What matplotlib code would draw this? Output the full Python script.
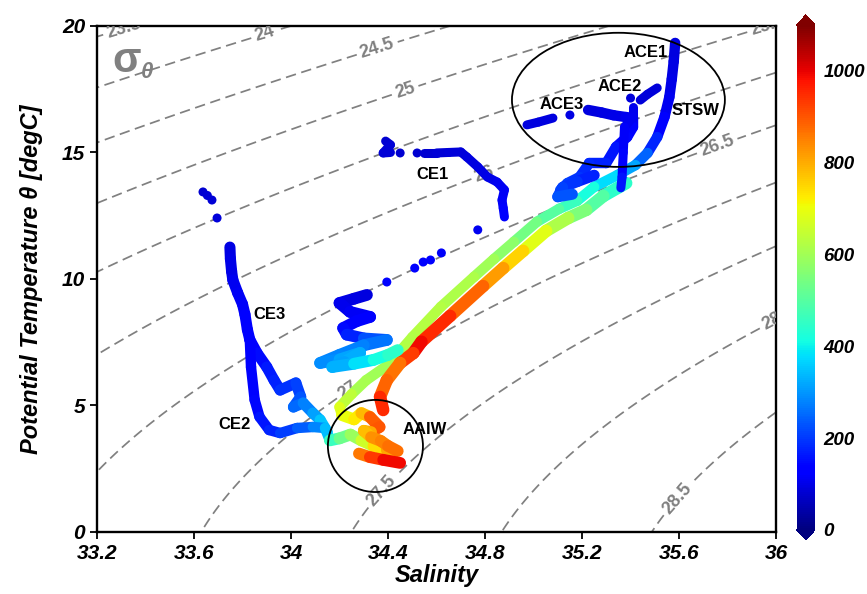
import numpy as np
import matplotlib
matplotlib.use("Agg")
import matplotlib.pyplot as plt
from matplotlib.collections import LineCollection
from matplotlib.patches import Ellipse
from matplotlib import colors, cm

plt.rcParams['font.family'] = ['Liberation Sans', 'DejaVu Sans']

# ---- profiles: salinity, potential temperature (degC), depth (m) ----
# STSW profile running into the upper (shallower) edge of the main band
stsw_s = [35.584, 35.578, 35.570, 35.560, 35.540, 35.510, 35.470, 35.420, 35.345,
          35.250, 35.180, 35.105, 35.014, 34.919, 34.837, 34.754, 34.618, 34.500,
          34.450, 34.400, 34.310, 34.250, 34.200, 34.210]
stsw_t = [19.33, 18.60, 17.90, 17.19, 16.40, 15.61, 14.98, 14.50, 14.10,
          13.64, 13.09, 12.77, 12.26, 11.47, 10.79, 10.08, 8.90, 7.70,
          7.15, 6.60, 6.00, 5.45, 4.94, 4.62]
stsw_z = [90, 95, 100, 105, 115, 150, 210, 280, 350,
          400, 440, 480, 520, 560, 590, 610, 620, 630,
          610, 600, 600, 620, 660, 700]

# deeper edge of the main band, ending in the orange strand above AAIW
band_s = [35.382, 35.288, 35.217, 35.143, 35.052, 34.957, 34.875, 34.792, 34.656,
          34.538, 34.504, 34.450, 34.395, 34.367, 34.380]
band_t = [13.79, 13.28, 12.73, 12.41, 11.90, 11.11, 10.43, 9.72, 8.54,
          7.52, 7.07, 6.68, 6.00, 5.34, 4.82]
band_z = [420, 470, 520, 580, 650, 720, 790, 850, 920,
          980, 1000, 860, 870, 900, 1000]

# CE1
ce1_s = [34.550, 34.600, 34.650, 34.700, 34.725, 34.770, 34.810, 34.850, 34.880,
         34.870, 34.875, 34.880]
ce1_t = [14.98, 14.98, 15.00, 15.02, 14.82, 14.43, 14.03, 13.83, 13.52,
         13.12, 12.80, 12.45]
ce1_z = [80, 82, 85, 88, 90, 95, 100, 105, 110, 115, 120, 125]

ce1_top_s = [34.390, 34.410, 34.380, 34.410]
ce1_top_t = [15.45, 15.30, 14.98, 15.00]
ce1_top_z = [80, 80, 85, 85]

# CE1 deeper zigzag merging into the band
ce1_low_s = [34.313, 34.260, 34.200, 34.243, 34.326, 34.270, 34.215, 34.230, 34.300,
             34.395, 34.300, 34.200, 34.120, 34.200, 34.285, 34.220, 34.170, 34.260,
             34.340, 34.400, 34.440]
ce1_low_t = [9.37, 9.22, 9.05, 8.70, 8.50, 8.33, 8.06, 7.80, 7.65,
             7.59, 7.38, 7.00, 6.68, 6.82, 7.08, 6.72, 6.52, 6.65,
             6.80, 7.00, 7.19]
ce1_low_z = [90, 95, 100, 110, 120, 130, 140, 160, 190,
             260, 270, 280, 280, 300, 330, 320, 300, 360,
             400, 430, 460]

# CE3 (upper part and zigzag branch)
ce3_s = [33.748, 33.750, 33.755, 33.760, 33.780, 33.800, 33.810, 33.820, 33.830,
         33.860, 33.900, 33.930, 33.955, 34.020, 34.040, 34.010, 34.050, 34.090,
         34.120, 34.150]
ce3_t = [11.26, 10.80, 10.30, 9.96, 9.45, 9.00, 8.60, 8.00, 7.60,
         7.07, 6.52, 6.00, 5.61, 5.89, 5.34, 4.94, 5.10, 4.70,
         4.43, 3.95]
ce3_z = [95, 100, 100, 105, 110, 115, 120, 125, 130,
         140, 160, 170, 180, 200, 220, 240, 260, 290,
         330, 370]

# CE2
ce2_s = [33.830, 33.835, 33.850, 33.870, 33.910, 33.955, 34.025, 34.090, 34.140, 34.160]
ce2_t = [7.60, 6.52, 5.22, 4.55, 4.03, 3.91, 4.11, 4.15, 4.11, 3.62]
ce2_z = [130, 135, 140, 150, 170, 190, 220, 260, 300, 380]

# AAIW core
aaiw1_s = [34.160, 34.200, 34.245, 34.290, 34.340, 34.395, 34.420]
aaiw1_t = [3.62, 3.70, 3.85, 3.62, 3.40, 3.24, 3.10]
aaiw1_z = [420, 500, 560, 620, 700, 780, 830]

aaiw2_s = [34.210, 34.260, 34.290, 34.325, 34.365, 34.330, 34.300, 34.330, 34.370, 34.400, 34.440]
aaiw2_t = [4.62, 4.45, 4.70, 4.55, 4.15, 3.95, 4.00, 3.75, 3.60, 3.40, 3.20]
aaiw2_z = [690, 710, 750, 820, 960, 840, 760, 800, 860, 840, 900]

aaiw3_s = [34.280, 34.325, 34.380, 34.450]
aaiw3_t = [3.10, 2.96, 2.85, 2.73]
aaiw3_z = [820, 900, 970, 1010]

# ACE eddies
ace3_s = [34.973, 35.020, 35.080]
ace3_t = [16.09, 16.20, 16.36]
ace3_z = [90, 92, 95]

ace3b_s = [35.225, 35.280, 35.330, 35.380, 35.410, 35.410, 35.386, 35.340, 35.300,
           35.230, 35.190, 35.140, 35.110]
ace3b_t = [16.68, 16.58, 16.47, 16.40, 16.36, 16.00, 15.61, 15.22, 14.58,
           14.58, 14.03, 13.79, 13.52]
ace3b_z = [90, 95, 100, 105, 110, 120, 135, 150, 170, 175, 190, 200, 215]

ace2_s = [35.510, 35.470, 35.440]
ace2_t = [17.55, 17.30, 17.07]
ace2_z = [85, 88, 92]

ace2b_s = [35.410, 35.410, 35.375, 35.370, 35.365, 35.360]
ace2b_t = [16.80, 16.40, 16.00, 15.00, 14.03, 13.60]
ace2b_z = [100, 110, 110, 130, 150, 170]

ace_low_s = [35.250, 35.180, 35.120, 35.100, 35.160]
ace_low_t = [14.10, 13.85, 13.62, 13.25, 13.35]
ace_low_z = [160, 190, 200, 220, 240]

# isolated samples
dot_s = [34.450, 34.520, 34.770, 34.620, 34.575, 34.545, 34.510, 34.395,
         33.637, 33.655, 33.674, 33.695, 35.150, 35.400]
dot_t = [14.98, 14.98, 11.94, 11.03, 10.75, 10.67, 10.43, 9.88,
         13.44, 13.30, 13.12, 12.41, 16.48, 17.15]
dot_z = [80, 80, 110, 120, 125, 125, 130, 140,
         80, 82, 85, 90, 95, 90]

# density contours
sigma_levels = [23.5, 24, 24.5, 25, 25.5, 26, 26.5, 27, 27.5, 28, 28.5]
sigma_label_pos = [(33.31, 19.9), (33.89, 19.72), (34.355, 19.13), (34.47, 17.47),
                   (35.975, 19.9), (34.79, 14.35), (35.75, 15.45), (34.23, 5.69),
                   (34.37, 1.66), (35.98, 8.38), (35.60, 1.26)]

# water mass labels
wm_names = ['ACE1', 'ACE2', 'ACE3', 'STSW', 'CE1', 'CE3', 'CE2', 'AAIW']
wm_s = [35.464, 35.357, 35.117, 35.670, 34.585, 33.910, 33.765, 34.550]
wm_t = [18.97, 17.59, 16.88, 16.64, 14.11, 8.58, 4.23, 4.07]

depth_ticks = [0, 200, 400, 600, 800, 1000]


def sigma0(S, T):
    # UNESCO 1983 equation of state at p = 0, returns rho - 1000
    rw = (999.842594 + 6.793952e-2 * T - 9.095290e-3 * T**2 + 1.001685e-4 * T**3
          - 1.120083e-6 * T**4 + 6.536332e-9 * T**5)
    A = 8.24493e-1 - 4.0899e-3 * T + 7.6438e-5 * T**2 - 8.2467e-7 * T**3 + 5.3875e-9 * T**4
    B = -5.72466e-3 + 1.0227e-4 * T - 1.6546e-6 * T**2
    C = 4.8314e-4
    return rw + A * S + B * S**1.5 + C * S**2 - 1000.0


cmap = plt.get_cmap('jet')
norm = colors.Normalize(vmin=0, vmax=1100)


def draw_track(ax, s, t, z, lw=7.5):
    pts = np.column_stack([s, t])
    segs = np.stack([pts[:-1], pts[1:]], axis=1)
    z = np.asarray(z, dtype=float)
    lc = LineCollection(segs, cmap=cmap, norm=norm, linewidths=lw,
                        capstyle='round', joinstyle='round', zorder=3)
    lc.set_array(0.5 * (z[:-1] + z[1:]))
    ax.add_collection(lc)


fig = plt.figure(figsize=(8.67, 5.94), dpi=100)
ax = fig.add_axes([0.1119, 0.1044, 0.7832, 0.8519])

# sigma-theta isopycnals
sg, tg = np.meshgrid(np.linspace(33.2, 36.0, 400), np.linspace(0, 20, 400))
cs = ax.contour(sg, tg, sigma0(sg, tg), levels=sigma_levels, colors='#808080',
                linewidths=1.25, zorder=1)
cs.set_linestyle((0, (6, 3.2)))
labels = ax.clabel(cs, manual=sigma_label_pos, inline=True, inline_spacing=4,
                   fmt=lambda v: f"{v:g}", fontsize=13)
for lab in labels:
    lab.set_fontweight('bold')

# profiles
draw_track(ax, stsw_s, stsw_t, stsw_z)
draw_track(ax, band_s, band_t, band_z, lw=9)
draw_track(ax, ce1_low_s, ce1_low_t, ce1_low_z, lw=8.5)
draw_track(ax, ce1_s, ce1_t, ce1_z, lw=6.5)
draw_track(ax, ce1_top_s, ce1_top_t, ce1_top_z, lw=6.5)
draw_track(ax, ce3_s, ce3_t, ce3_z, lw=8)
draw_track(ax, ce2_s, ce2_t, ce2_z)
draw_track(ax, aaiw1_s, aaiw1_t, aaiw1_z, lw=8.5)
draw_track(ax, aaiw2_s, aaiw2_t, aaiw2_z, lw=8.5)
draw_track(ax, aaiw3_s, aaiw3_t, aaiw3_z, lw=8.5)
draw_track(ax, ace3_s, ace3_t, ace3_z, lw=6.5)
draw_track(ax, ace3b_s, ace3b_t, ace3b_z)
draw_track(ax, ace2_s, ace2_t, ace2_z, lw=6.5)
draw_track(ax, ace2b_s, ace2b_t, ace2b_z, lw=6.5)
draw_track(ax, ace_low_s, ace_low_t, ace_low_z, lw=8)
ax.scatter(dot_s, dot_t, c=dot_z, cmap=cmap, norm=norm, s=42, linewidths=0, zorder=3)

# water mass outlines and names
ax.add_patch(Ellipse((35.35, 17.08), 0.878, 5.30, fill=False, lw=1.3, ec='black', zorder=4))
ax.add_patch(Ellipse((34.348, 3.40), 0.392, 3.64, fill=False, lw=1.3, ec='black', zorder=4))
for name, x, y in zip(wm_names, wm_s, wm_t):
    ax.text(x, y, name, fontsize=12, fontweight='bold', ha='center', va='center', zorder=5)

ax.text(33.262, 18.18, 'σ', fontsize=30, fontweight='bold', color='#808080', zorder=5)
ax.text(33.382, 17.95, 'θ', fontsize=16, fontweight='bold', style='italic',
        color='#808080', zorder=5)

ax.set_xlim(33.2, 36)
ax.set_ylim(0, 20)
ax.set_xticks([33.2, 33.6, 34, 34.4, 34.8, 35.2, 35.6, 36])
ax.set_xticklabels(['33.2', '33.6', '34', '34.4', '34.8', '35.2', '35.6', '36'])
ax.set_yticks([0, 5, 10, 15, 20])
ax.tick_params(direction='out', length=5, width=1.3, labelsize=15)
for lab in ax.get_xticklabels() + ax.get_yticklabels():
    lab.set_fontweight('bold')
    lab.set_fontstyle('italic')
for sp in ax.spines.values():
    sp.set_linewidth(1.7)
ax.set_xlabel('Salinity', fontsize=17, fontweight='bold', style='italic', labelpad=1)
ax.set_ylabel('Potential Temperature θ [degC]', fontsize=17, fontweight='bold',
              style='italic', labelpad=14)

# depth colour bar
cax = fig.add_axes([0.919, 0.0909, 0.021, 0.884])
sm = cm.ScalarMappable(norm=norm, cmap=cmap)
cb = fig.colorbar(sm, cax=cax, extend='both', extendfrac=0.02, ticks=depth_ticks)
cb.outline.set_visible(False)
cb.ax.tick_params(length=0, labelsize=13.5, pad=6)
for lab in cb.ax.get_yticklabels():
    lab.set_fontweight('bold')
    lab.set_fontstyle('italic')

fig.savefig('out.png', dpi=100)
